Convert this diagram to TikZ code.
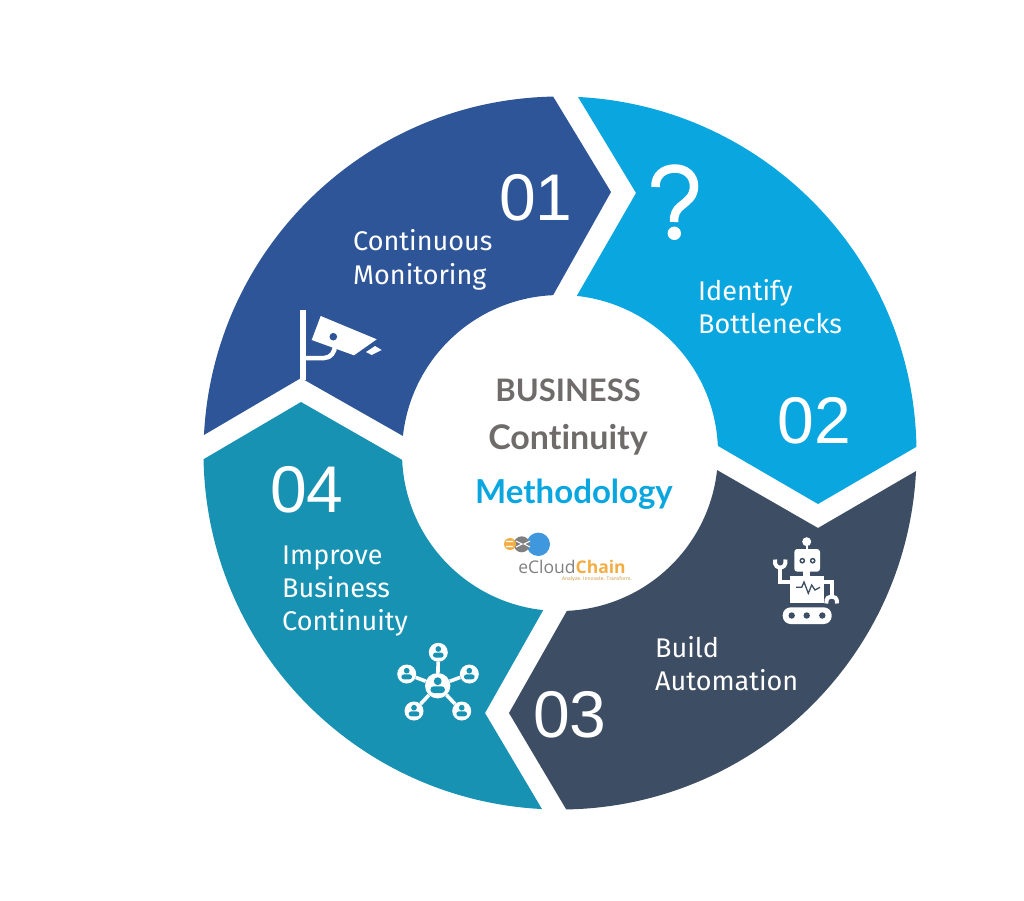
\documentclass[tikz,border=0pt]{standalone}
\usepackage{fontspec}
\setmainfont{Open Sans}
\newfontfamily\numfont{Liberation Sans}
\newfontfamily\labfont{Fira Sans}
\newfontfamily\midfont[Ligatures=NoCommon]{Lato}
\definecolor{segA}{HTML}{2E5597}
\definecolor{segB}{HTML}{0AA6E0}
\definecolor{segC}{HTML}{3D4D63}
\definecolor{segD}{HTML}{1892B2}
\definecolor{midgray}{HTML}{6F6B6B}
\definecolor{logoblue}{HTML}{3F97DD}
\definecolor{logogray}{HTML}{808080}
\definecolor{logoorange}{HTML}{F2AE45}
\newcommand\personmark[3]{%
  \fill[segD] (#1,{#2-3.7*#3}) circle ({3*#3});
  \fill[segD,rounded corners={2.6pt*#3}] ({#1-5.6*#3},{#2+5.4*#3}) rectangle ({#1+5.6*#3},{#2+0.2*#3});
}
\tikzset{
 numlab/.style={text=white,inner sep=0pt,anchor=base,font=\numfont\fontsize{66}{66}\selectfont},
 seglab/.style={text=white,inner sep=0pt,anchor=base west,font=\labfont\fontsize{27}{30}\selectfont},
 midlab/.style={inner sep=0pt,anchor=base,font=\midfont\bfseries\fontsize{#1}{36}\selectfont},
 hub/.style={circle,fill=white,inner sep=0pt,minimum size=#1},
 tie/.style={draw=white,line width=3.6pt}
}
\begin{document}
\begin{tikzpicture}[x=1pt,y=1pt,yscale=-1]
\useasboundingbox (0,0) rectangle (1024,900);
\coordinate (c) at (560,453);
% ---- ring segments
\fill[segA] ([shift={(182.9:356.5pt)}]c) arc[start angle=182.9,end angle=268.9,radius=356.5pt]
  -- (611,192) -- ([shift={(267.5:158pt)}]c) arc[start angle=267.5,end angle=186.2,radius=158pt]
  -- (301,378) -- cycle;
\fill[segB] ([shift={(272.9:356.5pt)}]c) arc[start angle=272.9,end angle=359,radius=356.5pt]
  -- (818,504) -- ([shift={(357.4:158pt)}]c) arc[start angle=357.4,end angle=276.1,radius=158pt]
  -- (636,193) -- cycle;
\fill[segC] ([shift={(2.9:356.5pt)}]c) arc[start angle=2.9,end angle=89,radius=356.5pt]
  -- (509,713) -- ([shift={(87.5:158pt)}]c) arc[start angle=87.5,end angle=6.2,radius=158pt]
  -- (818,528) -- cycle;
\fill[segD] ([shift={(92.9:356.5pt)}]c) arc[start angle=92.9,end angle=179,radius=356.5pt]
  -- (301,402) -- ([shift={(177.5:158pt)}]c) arc[start angle=177.5,end angle=96.1,radius=158pt]
  -- (485,713) -- cycle;
% ---- numbers
\node[numlab] (n01) at (536,220) {01};
\node[numlab] (n02) at (814,443) {02};
\node[numlab] (n03) at (570,737) {03};
\node[numlab] (n04) at (307,512) {04};
% ---- labels
\node[seglab] (a1) at (353,250) {Continuous};
\node[seglab] (a2) at (353,284) {Monitoring};
\node[seglab] (b1) at (698,300) {Identify};
\node[seglab] (b2) at (698,333) {Bottlenecks};
\node[seglab] (c1) at (655,657) {Build};
\node[seglab] (c2) at (655,690) {Automation};
\node[seglab] (d1) at (282,564) {Improve};
\node[seglab] (d2) at (282,597) {Business};
\node[seglab] (d3) at (282,630) {Continuity};
% ---- centre
\node[midlab=31,text=midgray] (m1) at (568,401) {BUSINESS};
\node[midlab=34,text=midgray] (m2) at (568,449) {Continuity};
\node[midlab=33,text=segB] (m3) at (574,503) {Methodology};
% ---- logo
\fill[logoblue] (538.3,544.3) circle (11.7);
\fill[logogray] (521.7,544.3) circle (8);
\fill[logoorange] (510,544) circle (6);
\draw[white,line width=1.1pt] (506,541.5) -- (513,541.5) (506,546.5) -- (513,546.5)
  (516,541) -- (522,544) -- (516,547) (530,541) -- (524,544) -- (530,547);
\node[inner sep=0pt,anchor=base] (lg) at (572,573.5) {\fontsize{17.5}{20}\selectfont\textcolor{logogray}{eCloud}\textbf{\textcolor{logoorange}{Chain}}};
\node[inner sep=0pt,anchor=base] (lt) at (597,580.5) {\labfont\fontsize{5.2}{6}\selectfont\textcolor{logoorange!70!gray}{Analyze. Innovate. Transform.}};
% ---- question mark icon
\draw[white,line width=8.5pt] (655.5,187) .. controls (655,175) and (664,168.5) .. (675,168.5)
  .. controls (686,168.5) and (694,176) .. (694,186) .. controls (694,197) and (687,201) .. (681,206)
  .. controls (676,210) and (674,214) .. (674,222);
\fill[white] (674.3,233.3) circle (6.7);
% ---- camera icon
\fill[white] (300.2,310) rectangle (305.8,380);
\draw[white,line width=4.5pt] (303,358) -- (324,358) .. controls (331,358) and (335,352) .. (335,345) -- (335,338);
\fill[white] (320.7,316) -- (376.7,339.3) -- (354,355.3) -- (311.7,340) -- cycle;
\fill[segA] (333.3,336.7) circle (3.8);
\fill[white] (366,352) -- (375,346) -- (381.7,350) -- (371.7,355) -- cycle;
% ---- robot icon
\fill[white] (806.7,541.7) circle (4.5);
\fill[white] (805.5,544) rectangle (807.9,550);
\fill[white,rounded corners=3pt] (794.3,549) rectangle (820,571.7);
\fill[white] (803,571) rectangle (810,576);
\fill[white] (790,575.7) rectangle (824,603.3);
\fill[segC] (802.3,560.7) circle (2.9) (812.7,560.7) circle (2.9);
\fill[white] (802.3,560.7) circle (1.3) (812.7,560.7) circle (1.3);
\draw[segC,line width=1.3pt] (796,587.3) -- (801.7,587.3) -- (804,582) -- (808.3,593.3) -- (811.7,585) -- (815,590) -- (820,587.3);
\draw[white,line width=4.4pt] (790,581.7) -- (780,581.7) -- (780,566);
\draw[white,line width=4pt] (775,559.5) .. controls (774,566) and (778,567.5) .. (780,567.5) .. controls (783,567.5) and (786,566) .. (785.5,559.5);
\draw[white,line width=4.4pt] (824,581.7) -- (831.7,581.7) -- (831.7,597);
\draw[white,line width=4pt] (826.3,603.5) .. controls (826,597.5) and (829,596.5) .. (831.7,596.5) .. controls (834,596.5) and (837.5,597.5) .. (837,603.5);
\fill[white,rounded corners=8pt] (782.7,607.3) rectangle (831.7,624);
\fill[segC] (791.7,615.5) circle (3.2) (806.7,615.5) circle (3.2) (822.3,615.5) circle (3.2);
% ---- network icon
\node[hub=25.4pt] (h0) at (437.7,685.7) {};
\node[hub=19pt] (h1) at (438.3,652.3) {};
\node[hub=19pt] (h2) at (406.7,674) {};
\node[hub=19pt] (h3) at (469.3,674) {};
\node[hub=19pt] (h4) at (414,711) {};
\node[hub=19pt] (h5) at (461.7,711) {};
\draw[tie] (h0) -- (h1);
\draw[tie] (h0) -- (h2);
\draw[tie] (h0) -- (h3);
\draw[tie] (h0) -- (h4);
\draw[tie] (h0) -- (h5);
\personmark{437.7}{686}{1.3}
\personmark{438.3}{652.5}{.95}
\personmark{406.7}{674.2}{.95}
\personmark{469.3}{674.2}{.95}
\personmark{414}{711.2}{.95}
\personmark{461.7}{711.2}{.95}
\end{tikzpicture}
\end{document}
